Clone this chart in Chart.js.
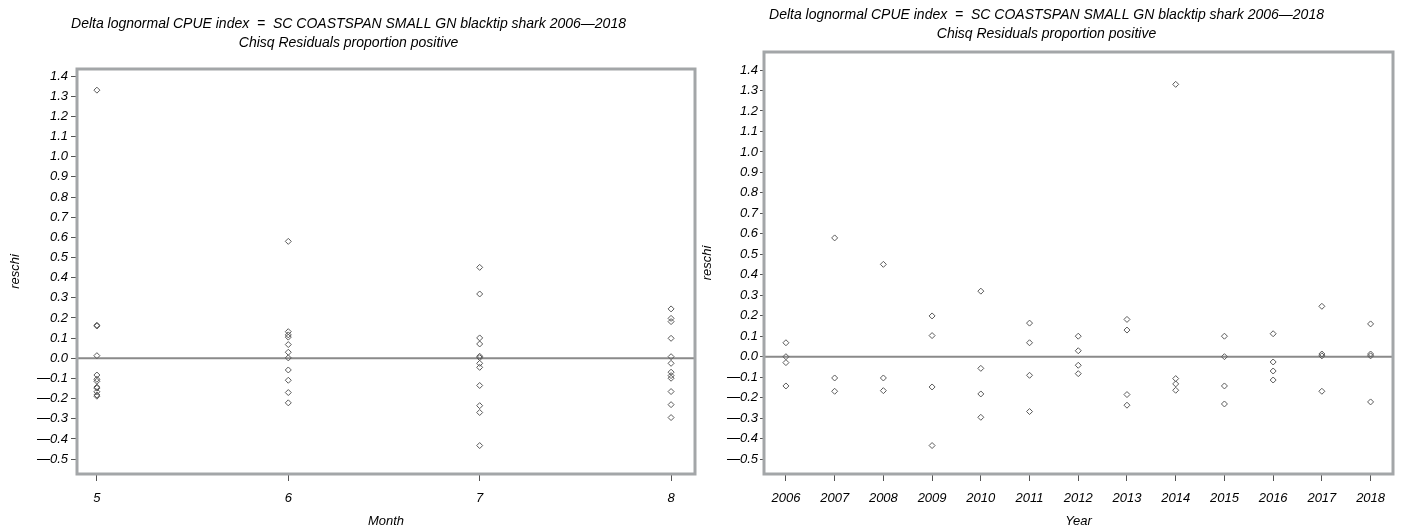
<!DOCTYPE html>
<html>
<head>
<meta charset="utf-8">
<script src="https://cdn.jsdelivr.net/npm/chart.js@4.4.1/dist/chart.umd.min.js"></script>
<style>
  html, body { margin: 0; padding: 0; background: #fff; }
  #wrapL { position: absolute; left: 0; top: 0; width: 700px; height: 529px; }
  #wrapR { position: absolute; left: 700px; top: 0; width: 701px; height: 529px; }
</style>
</head>
<body>
<div id="wrapL"><canvas id="cL" width="700" height="529"></canvas></div>
<div id="wrapR"><canvas id="cR" width="701" height="529"></canvas></div>
<script>
// ---------- data ----------
const titleLines = [
  "Delta lognormal CPUE index  =  SC COASTSPAN SMALL GN blacktip shark 2006\u20142018",
  "Chisq Residuals proportion positive"
];
const yTicks = [-0.5, -0.4, -0.3, -0.2, -0.1, 0.0, 0.1, 0.2, 0.3, 0.4, 0.5, 0.6, 0.7, 0.8, 0.9, 1.0, 1.1, 1.2, 1.3, 1.4];

const months = [5, 6, 7, 8];
const month5 = [1.330, 0.164, 0.160, 0.013, -0.083, -0.104, -0.114, -0.143, -0.148, -0.166, -0.182, -0.188];
const month6 = [0.580, 0.132, 0.116, 0.105, 0.068, 0.030, 0.002, -0.058, -0.109, -0.170, -0.221];
const month7 = [0.451, 0.319, 0.101, 0.071, 0.010, 0.003, -0.025, -0.045, -0.135, -0.235, -0.269, -0.433];
const month8 = [0.245, 0.198, 0.182, 0.099, 0.008, -0.025, -0.069, -0.086, -0.099, -0.165, -0.230, -0.294];
const monthValues = [month5, month6, month7, month8];

const years = [2006, 2007, 2008, 2009, 2010, 2011, 2012, 2013, 2014, 2015, 2016, 2017, 2018];
const y2006 = [0.068, 0.000, -0.029, -0.143];
const y2007 = [0.580, -0.104, -0.169];
const y2008 = [0.451, -0.104, -0.166];
const y2009 = [0.199, 0.103, -0.148, -0.434];
const y2010 = [0.320, -0.057, -0.182, -0.296];
const y2011 = [0.164, 0.068, -0.091, -0.268];
const y2012 = [0.100, 0.029, -0.042, -0.083];
const y2013 = [0.182, 0.130, -0.185, -0.237];
const y2014 = [1.330, -0.107, -0.133, -0.164];
const y2015 = [0.100, 0.000, -0.143, -0.231];
const y2016 = [0.112, -0.026, -0.070, -0.114];
const y2017 = [0.246, 0.013, 0.004, -0.169];
const y2018 = [0.160, 0.013, 0.004, -0.221];
const yearValues = [y2006, y2007, y2008, y2009, y2010, y2011, y2012, y2013, y2014, y2015, y2016, y2017, y2018];

// ---------- helpers ----------
const FONT = "'Liberation Sans', Arial, sans-serif";

function toPoints(cats, vals) {
  const pts = [];
  cats.forEach((c, i) => vals[i].forEach(v => pts.push({ x: c, y: v })));
  return pts;
}
function fmtY(v) {
  const r = Math.round(v * 10) / 10;
  return r < 0 ? '\u2014' + Math.abs(r).toFixed(1) : r.toFixed(1);
}

const framePlugin = {
  id: 'frame',
  beforeDatasetsDraw(chart) {
    const { ctx, chartArea: a, scales } = chart;
    ctx.save();
    const y0 = scales.y.getPixelForValue(0);
    ctx.strokeStyle = '#8a8a8a';
    ctx.lineWidth = 2;
    ctx.beginPath();
    ctx.moveTo(a.left, y0);
    ctx.lineTo(a.right, y0);
    ctx.stroke();
    ctx.strokeStyle = '#a3a6a8';
    ctx.lineWidth = 3;
    ctx.strokeRect(a.left, a.top, a.right - a.left, a.bottom - a.top);
    ctx.restore();
  }
};

function makeChart(id, cats, vals, opt) {
  return new Chart(document.getElementById(id), {
    type: 'scatter',
    data: {
      datasets: [{
        data: toPoints(cats, vals),
        pointStyle: 'rectRot',
        pointRadius: 3,
        pointBorderWidth: 1,
        pointBorderColor: '#5a5a5a',
        pointBackgroundColor: 'rgba(255,255,255,0)',
        showLine: false
      }]
    },
    plugins: [framePlugin],
    options: {
      responsive: false,
      animation: false,
      devicePixelRatio: 1,
      layout: { padding: { left: 0, right: opt.padRight, top: 0, bottom: 0 } },
      plugins: {
        legend: { display: false },
        tooltip: { enabled: false },
        title: {
          display: true,
          text: titleLines,
          color: '#000',
          font: { family: FONT, size: 14, style: 'italic', weight: 'normal', lineHeight: 19 / 14 },
          padding: { top: opt.titleTop, bottom: opt.titleBottom }
        }
      },
      scales: {
        x: {
          type: 'linear',
          min: opt.xMin, max: opt.xMax,
          afterBuildTicks: s => { s.ticks = cats.map(v => ({ value: v })); },
          afterFit: s => { s.height = 55; },
          ticks: {
            color: '#000',
            font: { family: FONT, size: 13, style: 'italic' },
            padding: 10,
            maxRotation: 0,
            autoSkip: false,
            callback: v => String(v)
          },
          grid: { display: true, drawOnChartArea: false, drawTicks: true, tickLength: 7, color: '#555' },
          border: { display: false },
          title: {
            display: true, text: opt.xTitle, color: '#000',
            font: { family: FONT, size: 13, style: 'italic' },
            padding: { top: 0, bottom: 0 }
          }
        },
        y: {
          type: 'linear',
          min: opt.yMin, max: opt.yMax,
          afterBuildTicks: s => { s.ticks = yTicks.map(v => ({ value: v })); },
          afterFit: s => { s.width = opt.yWidth; },
          ticks: {
            color: '#000',
            font: { family: FONT, size: 13, style: 'italic' },
            padding: opt.yPad,
            autoSkip: false,
            callback: v => fmtY(v)
          },
          grid: { display: true, drawOnChartArea: false, drawTicks: true, tickLength: opt.yTick, color: '#555' },
          border: { display: false },
          title: {
            display: true, text: 'reschi', color: '#000',
            font: { family: FONT, size: 13, style: 'italic' },
            padding: { top: opt.yTitlePad, bottom: 0 }
          }
        }
      }
    }
  });
}

makeChart('cL', months, monthValues, {
  xMin: 4.896, xMax: 8.125, yMin: -0.574, yMax: 1.435,
  padRight: 3, titleTop: 14.5, titleBottom: 16.5,
  yWidth: 77, yPad: 3, yTick: 6, yTitlePad: 8, xTitle: 'Month'
});
makeChart('cR', years, yearValues, {
  xMin: 2005.55, xMax: 2018.46, yMin: -0.573, yMax: 1.488,
  padRight: 8, titleTop: 5.5, titleBottom: 8.5,
  yWidth: 64, yPad: 2, yTick: 4, yTitlePad: 0, xTitle: 'Year'
});
</script>
</body>
</html>
